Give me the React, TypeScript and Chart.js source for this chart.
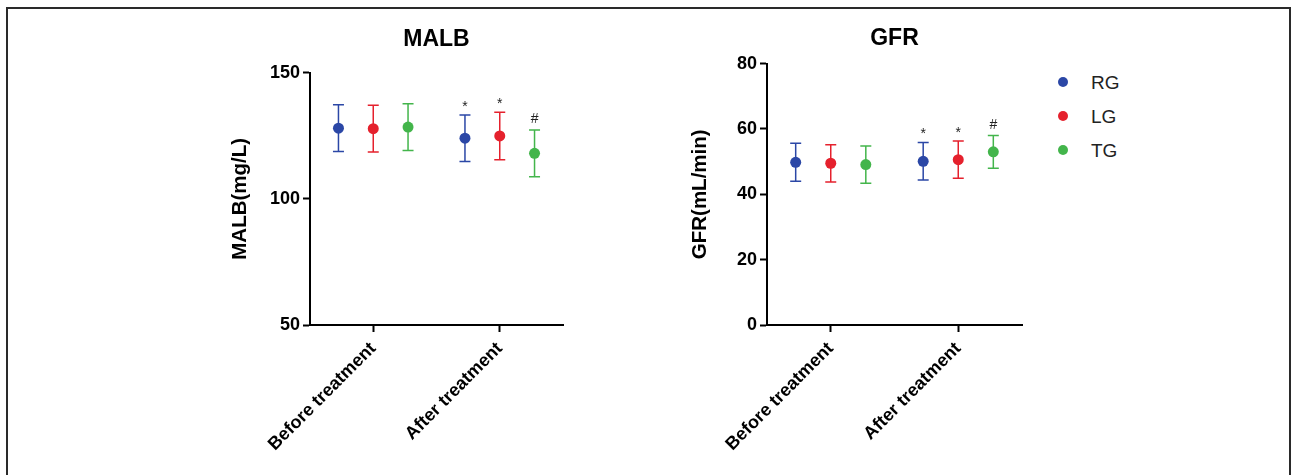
import React, { useEffect, useRef } from "react";
import { Chart, registerables } from "chart.js";

Chart.register(...registerables);

// ---------- data ----------
const categories = ["Before treatment", "After treatment"];
const groups = ["RG", "LG", "TG"];
const groupColors = ["#2b47a6", "#e5212d", "#43b54b"];
const groupOffsets = [-0.275, 0, 0.275];

// MALB (mg/L) — per group, [before, after]
const malbMeans = [
  [128.0, 124.0],
  [127.8, 124.9],
  [128.4, 118.0],
];
const malbSD = [
  [9.3, 9.2],
  [9.3, 9.4],
  [9.3, 9.3],
];
const malbMarks = [
  ["", "*"],
  ["", "*"],
  ["", "#"],
];
const malbTicks = [50, 100, 150];

// GFR (mL/min) — per group, [before, after]
const gfrMeans = [
  [49.8, 50.1],
  [49.5, 50.6],
  [49.1, 53.0],
];
const gfrSD = [
  [5.8, 5.75],
  [5.7, 5.7],
  [5.7, 5.0],
];
const gfrMarks = [
  ["", "*"],
  ["", "*"],
  ["", "#"],
];
const gfrTicks = [0, 20, 40, 60, 80];

const FONT = "'Liberation Sans', Arial, Helvetica, sans-serif";

const errorBarPlugin = {
  id: "errorBars",
  beforeDatasetsDraw(chart: any) {
    const { ctx, scales } = chart;
    const x = scales.x;
    const y = scales.y;
    chart.data.datasets.forEach((ds: any) => {
      ctx.save();
      ctx.strokeStyle = ds.backgroundColor;
      ctx.lineWidth = 1.5;
      ds.data.forEach((pt: any) => {
        const px = x.getPixelForValue(pt.x);
        const top = y.getPixelForValue(pt.y + pt.sd);
        const bot = y.getPixelForValue(pt.y - pt.sd);
        ctx.beginPath();
        ctx.moveTo(px, top);
        ctx.lineTo(px, bot);
        ctx.moveTo(px - 5.5, top);
        ctx.lineTo(px + 5.5, top);
        ctx.moveTo(px - 5.5, bot);
        ctx.lineTo(px + 5.5, bot);
        ctx.stroke();
      });
      ctx.restore();
    });
  },
  afterDatasetsDraw(chart: any) {
    const { ctx, scales } = chart;
    const x = scales.x;
    const y = scales.y;
    ctx.save();
    ctx.fillStyle = "#222";
    ctx.font = `14px ${FONT}`;
    ctx.textAlign = "center";
    ctx.textBaseline = "alphabetic";
    chart.data.datasets.forEach((ds: any) => {
      ds.data.forEach((pt: any) => {
        if (!pt.mark) return;
        const px = x.getPixelForValue(pt.x);
        const top = y.getPixelForValue(pt.y + pt.sd);
        const m = ctx.measureText(pt.mark);
        const center = top - 11.5;
        const base = center + (m.actualBoundingBoxAscent - m.actualBoundingBoxDescent) / 2;
        ctx.fillText(pt.mark, px, base);
      });
    });
    ctx.restore();
  },
};

function buildConfig(
  title: string,
  yTitle: string,
  means: number[][],
  sds: number[][],
  marks: string[][],
  ticks: number[],
  yWidth: number,
  titlePadTop: number,
  titlePadBottom: number,
  padRight: number
): any {
  const datasets = groups.map((g, gi) => ({
    label: g,
    data: categories.map((_, ci) => ({
      x: ci + groupOffsets[gi],
      y: means[gi][ci],
      sd: sds[gi][ci],
      mark: marks[gi][ci],
    })),
    backgroundColor: groupColors[gi],
    borderColor: groupColors[gi],
    pointRadius: 5.5,
    pointBorderWidth: 0,
    showLine: false,
  }));
  return {
    type: "scatter",
    data: { datasets },
    plugins: [errorBarPlugin],
    options: {
      responsive: false,
      animation: false,
      layout: { padding: { left: 10, right: padRight, top: 0, bottom: 0 } },
      plugins: {
        legend: { display: false },
        tooltip: { enabled: false },
        title: {
          display: true,
          text: title,
          color: "#000",
          fullSize: false,
          font: { family: FONT, size: 23, weight: "bold" },
          padding: { top: titlePadTop, bottom: titlePadBottom },
        },
      },
      scales: {
        x: {
          type: "linear",
          min: -0.5,
          max: categories.length - 0.5,
          afterBuildTicks: (axis: any) => {
            axis.ticks = categories.map((_, i) => ({ value: i }));
          },
          afterFit: (axis: any) => {
            axis.height = 150;
          },
          ticks: {
            autoSkip: false,
            minRotation: 45,
            maxRotation: 45,
            color: "#000",
            padding: 6,
            font: { family: FONT, size: 18, weight: "bold" },
            callback: (v: any) => categories[v] ?? "",
          },
          grid: {
            drawOnChartArea: false,
            drawTicks: true,
            tickLength: 7,
            tickWidth: 2,
            tickColor: "#000",
          },
          border: { display: true, color: "#000", width: 2 },
        },
        y: {
          type: "linear",
          min: ticks[0],
          max: ticks[ticks.length - 1],
          afterBuildTicks: (axis: any) => {
            axis.ticks = ticks.map((v) => ({ value: v }));
          },
          afterFit: (axis: any) => {
            axis.width = yWidth;
          },
          ticks: {
            color: "#000",
            padding: 3,
            font: { family: FONT, size: 18, weight: "bold" },
          },
          grid: {
            drawOnChartArea: false,
            drawTicks: true,
            tickLength: 7,
            tickWidth: 2,
            tickColor: "#000",
          },
          border: { display: true, color: "#000", width: 2 },
          title: {
            display: true,
            text: yTitle,
            color: "#000",
            font: { family: FONT, size: 20.5, weight: "bold" },
            padding: { top: 18.5, bottom: 0 },
          },
        },
      },
    },
  };
}

function ChartCanvas(props: { config: () => any; left: number; width: number; height: number }) {
  const ref = useRef<HTMLCanvasElement | null>(null);
  useEffect(() => {
    if (!ref.current) return;
    const chart = new Chart(ref.current, props.config());
    return () => chart.destroy();
  }, []);
  return (
    <canvas
      ref={ref}
      width={props.width}
      height={props.height}
      style={{ position: "absolute", left: props.left, top: 0, width: props.width, height: props.height }}
    />
  );
}

export default function App() {
  return (
    <div
      style={{
        position: "fixed",
        left: 0,
        top: 0,
        width: 1293,
        height: 475,
        overflow: "hidden",
        background: "#fff",
        fontFamily: FONT,
      }}
    >
      <div
        style={{
          position: "absolute",
          left: 6,
          top: 7,
          width: 1285,
          height: 520,
          border: "2px solid #2a2a2a",
          boxSizing: "border-box",
        }}
      />
      <ChartCanvas
        left={200}
        width={390}
        height={475}
        config={() =>
          buildConfig("MALB", "MALB(mg/L)", malbMeans, malbSD, malbMarks, malbTicks, 100, 26, 19, 27)
        }
      />
      <ChartCanvas
        left={660}
        width={390}
        height={475}
        config={() =>
          buildConfig("GFR", "GFR(mL/min)", gfrMeans, gfrSD, gfrMarks, gfrTicks, 97, 25, 11, 28)
        }
      />
      {groups.map((g, gi) => (
        <div
          key={g}
          style={{
            position: "absolute",
            left: 1058,
            top: 82 + gi * 34 - 9.5,
            height: 19,
            lineHeight: "19px",
            display: "flex",
            alignItems: "center",
            fontSize: 19,
            color: "#222",
          }}
        >
          <span
            style={{
              display: "inline-block",
              width: 10,
              height: 10,
              borderRadius: "50%",
              background: groupColors[gi],
              marginRight: 23,
            }}
          />
          <span>{g}</span>
        </div>
      ))}
    </div>
  );
}
